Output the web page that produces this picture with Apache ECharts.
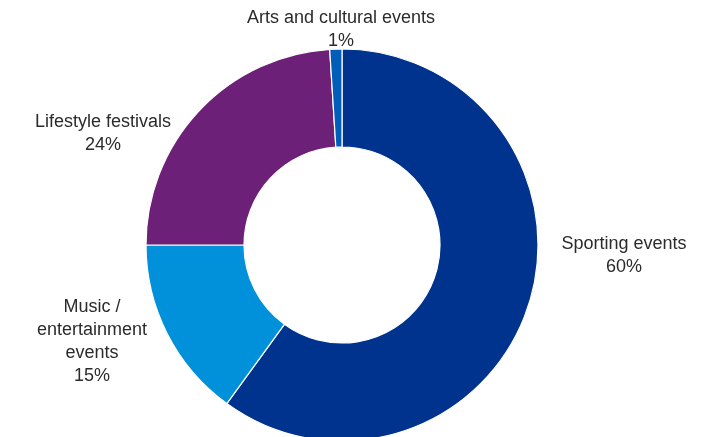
<!DOCTYPE html>
<html>
<head>
<meta charset="utf-8">
<script src="https://cdn.jsdelivr.net/npm/echarts@6/dist/echarts.min.js"></script>
<style>
  html, body { margin: 0; padding: 0; background: #fff; }
  #chart { width: 705px; height: 437px; }
</style>
</head>
<body>
<div id="chart"></div>
<script>
// Event categories and their shares (%)
const categories = ['Sporting events', 'Music /\nentertainment\nevents', 'Lifestyle festivals', 'Arts and cultural events'];
const shares = [60, 15, 24, 1];
const colors = ['#00338D', '#0091DA', '#6D2077', '#005EB8'];

// Label anchor points (pixel centres of each label block)
const labelAnchors = [
  [624, 256],
  [92, 342],
  [103, 134],
  [341, 30]
];

const chart = echarts.init(document.getElementById('chart'), null, { renderer: 'canvas' });

chart.setOption({
  animation: false,
  backgroundColor: '#ffffff',
  series: [{
    type: 'pie',
    center: [342, 245],
    radius: [98, 196],
    startAngle: 90,
    clockwise: true,
    avoidLabelOverlap: false,
    itemStyle: { borderColor: '#ffffff', borderWidth: 1.2 },
    label: {
      show: true,
      position: 'outside',
      formatter: p => p.name + '\n' + p.value + '%',
      fontFamily: 'Liberation Sans, Arial, sans-serif',
      fontSize: 18,
      lineHeight: 23,
      color: '#2b2b2b',
      align: 'center'
    },
    labelLine: { show: false },
    labelLayout: params => ({
      x: labelAnchors[params.dataIndex][0],
      y: labelAnchors[params.dataIndex][1],
      align: 'center',
      verticalAlign: 'middle'
    }),
    data: categories.map((name, i) => ({
      name,
      value: shares[i],
      itemStyle: { color: colors[i] }
    }))
  }]
});
</script>
</body>
</html>
